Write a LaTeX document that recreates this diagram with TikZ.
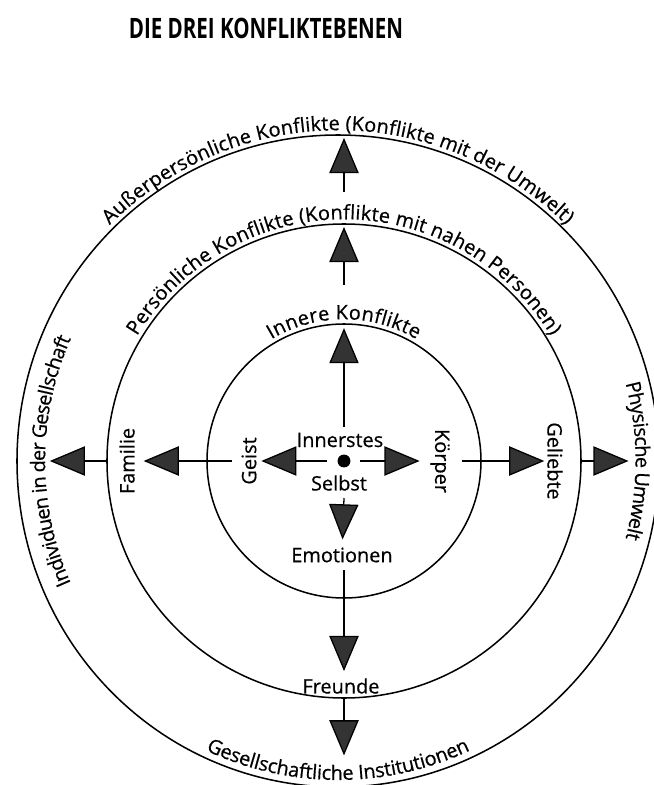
\documentclass[tikz,border=0pt]{standalone}
\usepackage{fontspec}
\setmainfont{Open Sans}
\newfontfamily\schriftart[FakeBold=0.6]{Open Sans}
\usetikzlibrary{arrows.meta, decorations.text, shapes.geometric}

\newcommand\schrift{\schriftart\fontsize{17}{20}\selectfont}

\tikzset{
	pfeil/.style={line width=1.1pt, -{Triangle[length=30pt, width=25pt, fill=black!80]}},
	ring/.style={draw, line width=1.3pt, inner sep=0pt, outer sep=0pt},
	beschriftung/.style={font=\schrift, inner sep=0pt},
}

\begin{document}
\begin{tikzpicture}[x=0.03cm, y=0.03cm]
	% parameter
	\def\Ri{137} % radius innen
	\def\Rm{237} % radius mitte
	\def\Ax{321} % aussen, x-radius
	\def\Ay{326} % aussen, y-radius

	% bildrahmen
	\useasboundingbox (-344,-324) rectangle (310,461);
	\clip (-344,-324) rectangle (310,461);

	% titel
	\node[font=\fontsize{24}{27}\selectfont\bfseries] (titel) at (-78,433)
		{\scalebox{0.73}[1]{DIE DREI KONFLIKTEBENEN}};

	% die drei ebenen
	\node[ring, circle, minimum size=2*\Ri*0.03cm] (innen) at (0,0) {};
	\node[ring, circle, minimum size=2*\Rm*0.03cm] (mitte) at (0,0) {};
	\node[ring, ellipse, minimum width=2*\Ax*0.03cm, minimum height=2*\Ay*0.03cm] (aussen) at (-6,0) {};

	% texte entlang der kreise
	\path[decorate, decoration={text along path, text align=center, raise=4pt,
		text={|\schrift|Innere Konflikte}}]
		(150:\Ri) arc[start angle=150, end angle=30, radius=\Ri];
	\path[decorate, decoration={text along path, text align=center, raise=4pt,
		text={|\schrift|Persönliche Konflikte (Konflikte mit nahen Personen)}}]
		(165:\Rm) arc[start angle=165, end angle=15, radius=\Rm];
	\path[decorate, decoration={text along path, text align=center, raise=4pt,
		text={|\schrift|Außerpersönliche Konflikte (Konflikte mit der Umwelt)}}]
		(-6,0) ++(160:{\Ax} and {\Ay}) arc[start angle=160, end angle=20, x radius=\Ax, y radius=\Ay];
	\path[decorate, decoration={text along path, text align=center, raise=-24pt,
		text={|\schrift|Individuen in der Gesellschaft}}]
		(-6,0) ++(215:{\Ax} and {\Ay}) arc[start angle=215, end angle=145, x radius=\Ax, y radius=\Ay];
	\path[decorate, decoration={text along path, text align=center, raise=-20pt,
		text={|\schrift|Physische Umwelt}}]
		(-6,0) ++(25:{\Ax} and {\Ay}) arc[start angle=25, end angle=-25, x radius=\Ax, y radius=\Ay];
	\path[decorate, decoration={text along path, text align=center, raise=6pt,
		text={|\schrift|Gesellschaftliche Institutionen}}]
		(-6,0) ++(235:{\Ax} and {\Ay}) arc[start angle=235, end angle=305, x radius=\Ax, y radius=\Ay];

	% innerstes selbst
	\node[circle, fill, inner sep=0pt, minimum size=11pt] (punkt) at (0,0) {};
	\node[beschriftung] (innerstes) at (-4,21) {Innerstes};
	\node[beschriftung] (selbst) at (-5,-22) {Selbst};

	% beschriftungen
	\node[beschriftung, rotate=90] (geist) at (-95,0) {Geist};
	\node[beschriftung, rotate=-90] (koerper) at (96,0) {Körper};
	\node[beschriftung] (emotionen) at (-2,-94) {Emotionen};
	\node[beschriftung, rotate=90] (familie) at (-217,0) {Familie};
	\node[beschriftung, rotate=-90] (geliebte) at (211,0) {Geliebte};
	\node[beschriftung] (freunde) at (-3,-225) {Freunde};

	% anfangspunkte der pfeile
	\coordinate (o0) at (0,34);
	\coordinate (o1) at (0,176);
	\coordinate (o2) at (0,269);
	\coordinate (l0) at (-17,0);
	\coordinate (l1) at (-112,0);
	\coordinate (r0) at (16,0);
	\coordinate (r1) at (118,0);
	\coordinate (u0) at (0,-37);
	\coordinate (u1) at (0,-109);

	% nach oben
	\draw[pfeil, shorten >=3.5pt] (o0) -- (innen.north);
	\draw[pfeil, shorten >=2.5pt] (o1) -- (mitte.north);
	\draw[pfeil, shorten >=2.5pt] (o2) -- (o2 |- aussen.north);

	% nach links
	\draw[pfeil, shorten >=4pt] (l0) -- (geist);
	\draw[pfeil, shorten >=7.5pt] (l1) -- (familie);
	\draw[pfeil, shorten >=28pt] (mitte.west) -- (aussen.west);

	% nach rechts
	\draw[pfeil, shorten >=9pt] (r0) -- (koerper);
	\draw[pfeil, shorten >=2.4pt] (r1) -- (geliebte);
	\draw[pfeil, shorten >=26pt] (mitte.east) -- (aussen.east);

	% nach unten
	\draw[pfeil, shorten >=6.8pt] (u0) -- (emotionen);
	\draw[pfeil, shorten >=6pt] (u1) -- (u1 |- freunde.north);
	\draw[pfeil, shorten >=27pt] (mitte.south) -- (mitte.south |- aussen.south);
\end{tikzpicture}
\end{document}
